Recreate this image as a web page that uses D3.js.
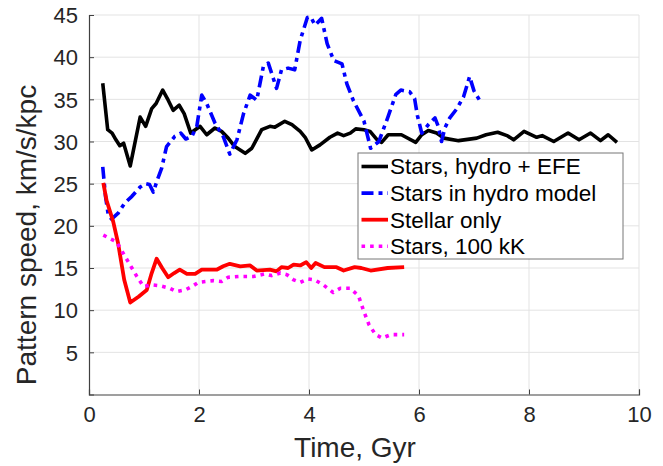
<!DOCTYPE html>
<html><head><meta charset="utf-8">
<script src="https://cdn.jsdelivr.net/npm/d3@7"></script>
<style>
html,body{margin:0;padding:0;background:#fff;}
svg{display:block;font-family:"Liberation Sans",Arial,Helvetica,sans-serif;}
</style></head>
<body>
<svg id="chart" width="663" height="466"></svg>
<script>
const xTicks = [0, 2, 4, 6, 8, 10];
const yTicks = [5, 10, 15, 20, 25, 30, 35, 40, 45];
const seriesNames = ["Stars, hydro + EFE", "Stars in hydro model", "Stellar only", "Stars, 100 kK"];

const hydroEFE = [[0.25,36.9],[0.34,31.4],[0.42,31.0],[0.49,30.2],[0.56,29.5],[0.63,29.8],[0.75,27.1],[0.93,32.9],[1.03,31.8],[1.14,33.9],[1.22,34.5],[1.34,36.1],[1.44,34.9],[1.53,33.7],[1.64,34.3],[1.73,33.3],[1.85,31.0],[2.02,31.8],[2.14,30.8],[2.29,31.6],[2.41,31.2],[2.53,30.4],[2.65,29.4],[2.84,28.6],[2.96,29.2],[3.14,31.4],[3.29,31.8],[3.38,31.7],[3.56,32.4],[3.69,32.0],[3.84,31.2],[3.93,30.5],[4.05,29.0],[4.2,29.6],[4.38,30.5],[4.52,31.0],[4.63,30.7],[4.75,31.0],[4.85,31.5],[5.0,31.4],[5.11,31.2],[5.24,30.2],[5.32,29.9],[5.44,30.8],[5.68,30.8],[5.94,29.9],[6.05,30.8],[6.17,31.3],[6.32,31.0],[6.45,30.4],[6.72,30.1],[7.05,30.4],[7.22,30.8],[7.43,31.1],[7.6,30.7],[7.72,30.2],[7.91,31.2],[8.14,30.5],[8.24,30.7],[8.45,30.0],[8.71,31.0],[8.91,30.2],[9.12,31.0],[9.3,30.1],[9.44,30.8],[9.6,29.9]];

const hydroModel = [[0.25,27.0],[0.3,23.5],[0.35,21.3],[0.41,20.8],[0.53,21.5],[0.65,22.7],[0.78,23.5],[0.93,24.6],[1.03,25.0],[1.1,24.9],[1.17,24.0],[1.24,25.4],[1.32,26.8],[1.41,29.4],[1.56,30.6],[1.67,31.0],[1.76,30.3],[1.87,30.6],[1.96,31.8],[2.05,35.5],[2.14,34.5],[2.29,32.2],[2.44,30.6],[2.56,28.5],[2.69,30.2],[2.81,33.3],[2.93,35.5],[3.05,34.9],[3.17,38.9],[3.26,39.3],[3.41,36.3],[3.5,38.5],[3.62,38.7],[3.74,38.5],[3.84,42.0],[3.97,44.7],[4.03,44.8],[4.11,43.8],[4.23,44.6],[4.33,41.6],[4.45,39.6],[4.6,39.2],[4.69,36.8],[4.81,34.8],[5.0,32.4],[5.12,29.2],[5.27,30.0],[5.43,32.8],[5.58,35.6],[5.67,36.1],[5.83,35.9],[5.92,35.1],[5.97,33.1],[6.05,31.0],[6.17,32.0],[6.29,32.8],[6.35,31.8],[6.41,30.0],[6.47,31.6],[6.56,32.8],[6.69,33.9],[6.81,35.3],[6.92,37.7],[7.0,36.0],[7.1,34.9]];

const stellarOnly = [[0.26,25.1],[0.32,23.0],[0.44,20.5],[0.53,17.9],[0.64,13.6],[0.75,10.9],[0.9,11.6],[1.05,12.4],[1.14,14.4],[1.23,16.1],[1.33,15.0],[1.44,13.9],[1.55,14.4],[1.65,14.8],[1.78,14.3],[1.93,14.3],[2.05,14.8],[2.32,14.8],[2.44,15.2],[2.56,15.5],[2.75,15.2],[2.93,15.3],[3.05,14.7],[3.29,14.8],[3.41,14.6],[3.5,15.1],[3.62,15.0],[3.72,15.4],[3.84,15.3],[3.95,15.7],[4.04,15.0],[4.12,15.6],[4.28,15.1],[4.5,15.1],[4.63,14.7],[4.83,15.1],[4.95,15.0],[5.12,14.7],[5.43,15.0],[5.73,15.1]];

const stars100kK = [[0.26,18.9],[0.38,18.5],[0.5,18.1],[0.59,17.1],[0.68,16.1],[0.78,15.0],[0.87,14.0],[0.99,12.8],[1.14,13.0],[1.29,12.9],[1.47,12.6],[1.59,12.2],[1.75,12.4],[1.87,12.8],[1.99,13.3],[2.26,13.5],[2.41,13.4],[2.53,13.9],[2.75,14.0],[2.99,14.0],[3.2,14.3],[3.32,14.1],[3.48,14.4],[3.6,14.2],[3.72,13.6],[3.84,13.3],[3.98,13.7],[4.1,13.6],[4.26,13.0],[4.44,12.1],[4.57,12.6],[4.75,12.6],[4.9,11.7],[5.0,9.8],[5.09,8.3],[5.21,7.1],[5.33,6.7],[5.49,7.1],[5.73,7.1]];

const series = [
  {name: seriesNames[0], data: hydroEFE,  color: "#000000", width: 3.6, dash: null},
  {name: seriesNames[1], data: hydroModel, color: "#0000ff", width: 3.6, dash: "12,5,4,5"},
  {name: seriesNames[2], data: stellarOnly, color: "#ff0000", width: 3.8, dash: null},
  {name: seriesNames[3], data: stars100kK, color: "#ff00ff", width: 3.6, dash: "3.6,5"}
];

const svg = d3.select("#chart");
const L = 89, R = 639, T = 15, B = 394.5;
const x = d3.scaleLinear().domain([0, 10]).range([L, R]);
const y = d3.scaleLinear().domain([0, 45]).range([B, T]);

// grid
const grid = svg.append("g");
grid.selectAll("line.gx").data(xTicks.filter(d => d > 0)).enter().append("line")
  .attr("x1", d => x(d)).attr("x2", d => x(d)).attr("y1", T).attr("y2", B)
  .attr("stroke", "#e3e3e3").attr("stroke-width", 1);
grid.selectAll("line.gy").data(yTicks).enter().append("line")
  .attr("x1", L).attr("x2", R).attr("y1", d => y(d)).attr("y2", d => y(d))
  .attr("stroke", "#e3e3e3").attr("stroke-width", 1);

// lines
svg.append("clipPath").attr("id", "clip").append("rect")
  .attr("x", L).attr("y", T - 2).attr("width", R - L).attr("height", B - T + 2);
const line = d3.line().x(d => x(d[0])).y(d => y(d[1]));
const lg = svg.append("g").attr("clip-path", "url(#clip)");
series.forEach(s => {
  lg.append("path").datum(s.data).attr("d", line)
    .attr("fill", "none").attr("stroke", s.color).attr("stroke-width", s.width)
    .attr("stroke-linejoin", "round")
    .attr("stroke-dasharray", s.dash);
});

// axes
const axisColor = "#404040";
const xAxis = svg.append("g").attr("transform", `translate(0,${B})`)
  .call(d3.axisBottom(x).tickValues(xTicks).tickSize(-5).tickPadding(12).tickFormat(d3.format("d")));
const yAxis = svg.append("g").attr("transform", `translate(${L},0)`)
  .call(d3.axisLeft(y).tickValues(yTicks).tickSize(-5).tickPadding(11).tickFormat(d3.format("d")));
[xAxis, yAxis].forEach(a => {
  a.select(".domain").attr("stroke", axisColor).attr("stroke-width", 1.2);
  a.selectAll(".tick line").attr("stroke", axisColor).attr("stroke-width", 1);
  a.selectAll(".tick text").attr("fill", "#262626").style("font-size", "22px")
    .style("font-family", "'Liberation Sans', Arial, sans-serif");
});
yAxis.selectAll(".tick text").attr("dy", "0.35em");

// axis labels
svg.append("text").attr("x", 355).attr("y", 457).attr("text-anchor", "middle")
  .attr("fill", "#262626").style("font-size", "28px").text("Time, Gyr");
svg.append("text").attr("transform", `translate(36,235) rotate(-90)`)
  .attr("text-anchor", "middle").attr("fill", "#262626").style("font-size", "28px")
  .text("Pattern speed, km/s/kpc");

// legend
const lgx = 358, lgy = 153, lgw = 265, lgh = 106;
const leg = svg.append("g");
leg.append("rect").attr("x", lgx).attr("y", lgy).attr("width", lgw).attr("height", lgh)
  .attr("fill", "#fff").attr("stroke", "#777").attr("stroke-width", 1);
series.forEach((s, i) => {
  const cy = lgy + 13.5 + i * 26.6;
  leg.append("line").attr("x1", lgx + 3.5).attr("x2", lgx + 30).attr("y1", cy).attr("y2", cy)
    .attr("stroke", s.color).attr("stroke-width", s.width).attr("stroke-dasharray", s.dash);
  leg.append("text").attr("x", lgx + 32).attr("y", cy).attr("dy", "0.35em")
    .attr("fill", "#000").style("font-size", "22.5px").text(s.name);
});
</script>
</body></html>
